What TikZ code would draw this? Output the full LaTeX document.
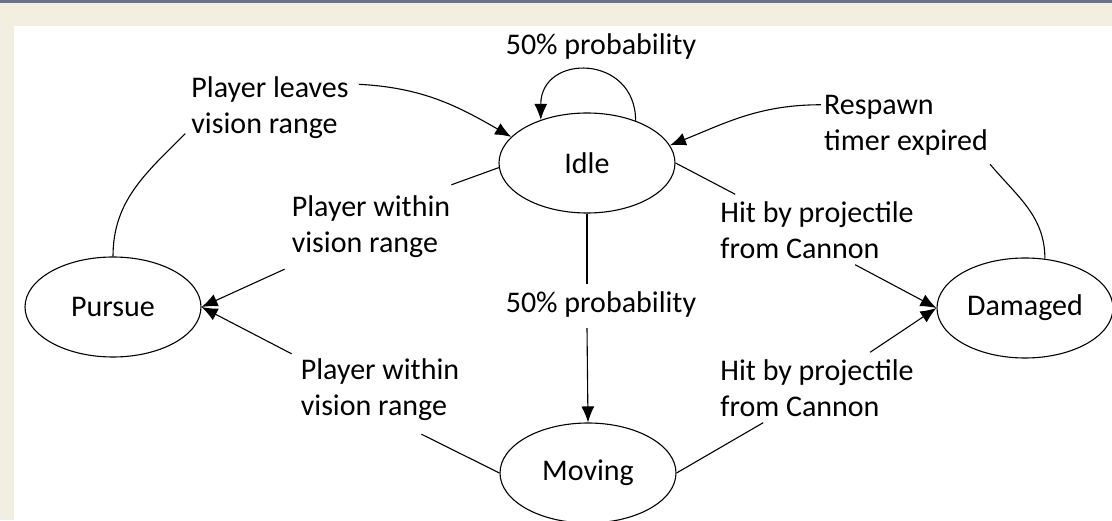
\documentclass[tikz,border=0pt]{standalone}
\usepackage{xcolor}
\usepackage{fontspec}
\setmainfont{Carlito}
\usepackage{tikz}
\usetikzlibrary{calc,shapes.geometric,arrows.meta}

\definecolor{pagebeige}{RGB}{242,238,224}
\definecolor{barblue}{RGB}{107,116,137}

\tikzset{
    state/.style={draw, ellipse, line width=1.1pt, minimum width=176pt, minimum height=100pt, inner sep=0pt, font=\fontsize{30}{36}\selectfont},
    lbl/.style={align=left, inner sep=0pt, font=\fontsize{30}{36}\selectfont},
    link/.style={line width=1.1pt},
    arr/.style={line width=1.1pt, -{Latex[length=16pt,width=13pt]}}
}

\begin{document}
\begin{tikzpicture}[x=1pt, y=1pt]
        \useasboundingbox (0,0) rectangle (1112,520);
        \fill[pagebeige] (0,0) rectangle (1112,520);
        \fill[white] (14,0) rectangle (1112,494);
        \fill[barblue] (0,517.3) rectangle (1112,520);

        \node[state] (idle) at (587,357) {Idle};
        \node[state] (pursue) at (113,213) {Pursue};
        \node[state] (damaged) at (1025,212) {Damaged};
        \node[state] (moving) at (588,47) {Moving};

        \node[lbl] (leaves) at (270,412.5) {Player leaves\\vision range};
        \node[lbl] (within1) at (371,293) {Player within\\vision range};
        \node[lbl] (within2) at (380,130) {Player within\\vision range};
        \node[lbl] (probmid) at (601,215) {50\% probability};
        \node[lbl] (probtop) at (601,473) {50\% probability};
        \node[lbl] (respawn) at (906,395) {Respawn\\timer expired};
        \node[lbl] (hit1) at (817,290) {Hit by projectile\\from Cannon};
        \node[lbl] (hit2) at (817,132) {Hit by projectile\\from Cannon};

        \draw[link] (pursue.north) to[out=90, in=225] ([shift={(-6,5)}]leaves.south west);
        \draw[arr] ([shift={(10,-8)}]leaves.north east) to[out=-3, in=150] (idle.161);

        \draw[arr] (idle.41) to[out=90, in=90, looseness=1.8] (idle.137);

        \draw[link] (damaged.68) to[out=90, in=-50] ([shift={(2,-9)}]respawn.south east);
        \draw[arr] ([shift={(-3,-10)}]respawn.north west) to[out=180, in=22] (idle.12);

        \draw[link] (idle.183) -- ([shift={(1,11)}]within1.north east);
        \draw[arr] ([shift={(-7,-11)}]within1.south west) -- (pursue.east);

        \draw[link] (moving.west) -- ([shift={(-38,-13)}]within2.south east);
        \draw[arr] ([shift={(-9,5)}]within2.north west) -- (pursue.east);

        \draw[link] (idle.south) -- ([yshift=8pt]idle.south |- probmid.north);
        \draw[arr] ([yshift=-10pt]idle.south |- probmid.south) -- (moving.north);

        \draw[link] (idle.east) -- ([shift={(15,7)}]hit1.north west);
        \draw[arr] ([shift={(135,-6)}]hit1.south west) -- (damaged.west);

        \draw[link] (moving.east) -- ([shift={(43,-6)}]hit2.south west);
        \draw[arr] ([shift={(150,7)}]hit2.north west) -- (damaged.west);
    \end{tikzpicture}
\end{document}
